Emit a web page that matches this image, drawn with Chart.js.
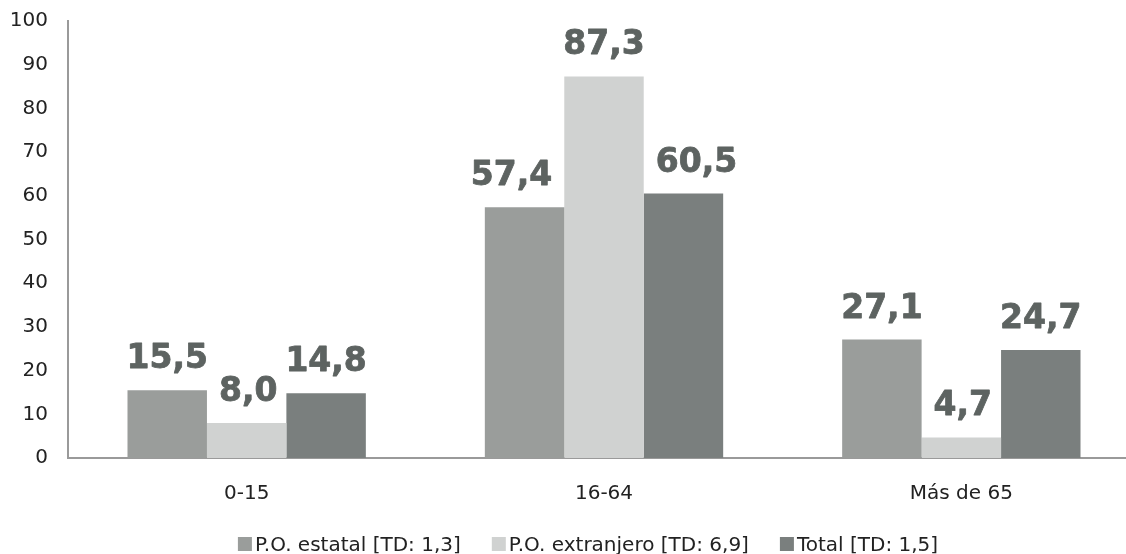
<!DOCTYPE html>
<html>
<head>
<meta charset="utf-8">
<script src="https://cdn.jsdelivr.net/npm/chart.js@4.4.1/dist/chart.umd.min.js"></script>
<style>
  html, body { margin: 0; padding: 0; background: #fff; overflow: hidden; }
  #wrap { width: 1140px; height: 554px; }
</style>
</head>
<body>
<div id="wrap"><canvas id="chartEdad" width="1140" height="554"></canvas></div>
<script>
// Datos
const categorias = ['0-15', '16-64', 'Más de 65'];
const serieEstatal = [15.5, 57.4, 27.1];
const serieExtranjero = [8.0, 87.3, 4.7];
const serieTotal = [14.8, 60.5, 24.7];
const nombresSeries = ['P.O. estatal [TD: 1,3]', 'P.O. extranjero [TD: 6,9]', 'Total [TD: 1,5]'];
const ticksY = [0, 10, 20, 30, 40, 50, 60, 70, 80, 90, 100];

const colores = ['#9a9d9b', '#d0d2d1', '#7a7f7e'];
const FONT = "'DejaVu Sans', sans-serif";

// etiquetas de valor encima de cada barra; se apartan de una barra vecina mas alta
const valueLabels = {
    id: 'valueLabels',
    afterDatasetsDraw: function (chart) {
        const ctx = chart.ctx;
        const margen = 12;
        ctx.save();
        ctx.font = 'bold 33px ' + FONT;
        ctx.fillStyle = '#5d6361';
        ctx.strokeStyle = '#5d6361';
        ctx.lineWidth = 0.8;
        ctx.lineJoin = 'round';
        ctx.textAlign = 'center';
        ctx.textBaseline = 'alphabetic';
        const metas = chart.data.datasets.map(function (ds, i) { return chart.getDatasetMeta(i); });
        chart.data.datasets.forEach(function (ds, i) {
            metas[i].data.forEach(function (bar, j) {
                const txt = ds.data[j].toFixed(1).replace('.', ',');
                const w = ctx.measureText(txt).width;
                const y = bar.y - 22;
                let x = bar.x;
                const izq = metas[i - 1] ? metas[i - 1].data[j] : null;
                const der = metas[i + 1] ? metas[i + 1].data[j] : null;
                if (der && der.y < y) {
                    const lim = der.x - der.width / 2 - margen;
                    if (x + w / 2 > lim) x = lim - w / 2;
                }
                if (izq && izq.y < y) {
                    const lim = izq.x + izq.width / 2 + margen;
                    if (x - w / 2 < lim) x = lim + w / 2;
                }
                ctx.fillText(txt, x, y);
                ctx.strokeText(txt, x, y);
            });
        });
        ctx.restore();
    }
};

// leyenda inferior dibujada a mano (cuadro pegado al texto)
const bottomLegend = {
    id: 'bottomLegend',
    afterDraw: function (chart) {
        const ctx = chart.ctx;
        const box = 14, gapTxt = 3, gapItem = 31;
        ctx.save();
        ctx.font = '20px ' + FONT;
        const widths = nombresSeries.map(function (n) { return ctx.measureText(n).width; });
        let total = 0;
        widths.forEach(function (w, i) { total += box + gapTxt + w + (i < widths.length - 1 ? gapItem : 0); });
        let x = 588 - total / 2;
        const base = 551;
        ctx.textBaseline = 'alphabetic';
        ctx.textAlign = 'left';
        nombresSeries.forEach(function (n, i) {
            ctx.fillStyle = colores[i];
            ctx.fillRect(x, base - box, box, box);
            ctx.fillStyle = '#222';
            ctx.fillText(n, x + box + gapTxt, base);
            x += box + gapTxt + widths[i] + gapItem;
        });
        ctx.restore();
    }
};

new Chart(document.getElementById('chartEdad'), {
    type: 'bar',
    data: {
        labels: categorias,
        datasets: [
            { label: nombresSeries[0], data: serieEstatal, backgroundColor: colores[0] },
            { label: nombresSeries[1], data: serieExtranjero, backgroundColor: colores[1] },
            { label: nombresSeries[2], data: serieTotal, backgroundColor: colores[2] },
        ],
    },
    options: {
        responsive: false,
        animation: false,
        categoryPercentage: 0.667,
        barPercentage: 1.0,
        layout: { padding: { top: 21, right: 0, bottom: 0, left: 0 } },
        plugins: {
            tooltip: { enabled: false },
            legend: { display: false },
        },
        scales: {
            x: {
                afterFit: function (scale) { scale.height = 96; },
                grid: { display: false, drawTicks: false },
                border: { color: '#9a9a9a', width: 2 },
                ticks: { color: '#222', font: { family: FONT, size: 20 }, padding: 24 },
            },
            y: {
                min: 0,
                max: 100,
                afterBuildTicks: function (scale) {
                    scale.ticks = ticksY.map(function (v) { return { value: v }; });
                },
                afterFit: function (scale) {
                    scale.width = 68;
                    scale.paddingTop = 0;
                    scale.paddingBottom = 0;
                },
                grid: { display: false, drawTicks: false },
                border: { color: '#9a9a9a', width: 2 },
                ticks: { color: '#222', font: { family: FONT, size: 20 }, padding: 20 },
            },
        },
    },
    plugins: [valueLabels, bottomLegend],
});
</script>
</body>
</html>
